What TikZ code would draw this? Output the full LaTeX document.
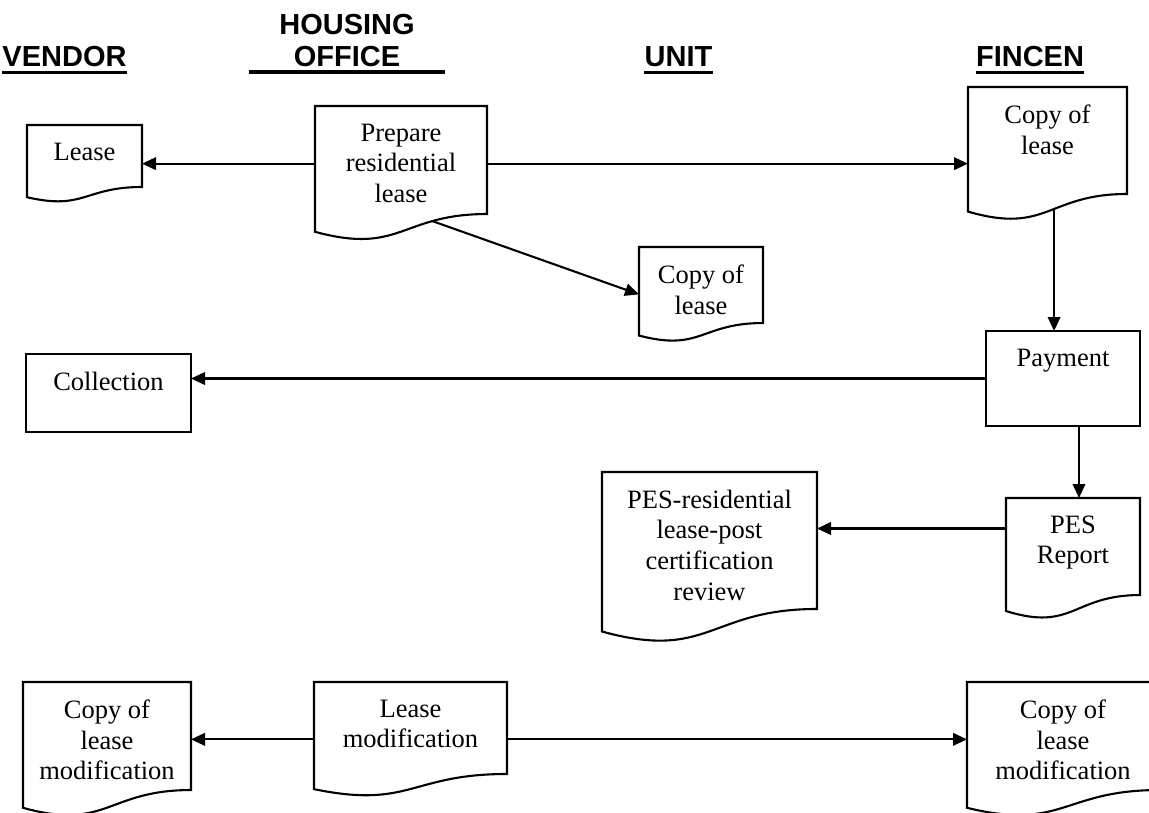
\documentclass[tikz,border=0pt]{standalone}
\usepackage{fontspec}
\setmainfont{Liberation Serif}
\newfontfamily\headfont{Liberation Sans}
\usetikzlibrary{arrows.meta,calc}

\tikzset{
  headline/.style={font=\headfont\bfseries\fontsize{29}{32}\selectfont, inner sep=0pt},
  uline/.style={line width=3.2pt},
  docbox/.style={anchor=north west, outer sep=0pt, inner sep=0pt},
  box/.style={docbox, draw, line width=2.1pt},
  docline/.style={line width=2.1pt, line join=miter},
  txt/.style={anchor=north, yshift=-17.5pt, align=center, inner sep=0pt, font=\fontsize{26.5}{30.7}\selectfont},
  arr/.style={-{Triangle[length=14pt,width=12.5pt]}, line width=2.1pt},
}

\newcommand{\docoutline}[2][0.5]{%
  \draw[docline] (#2.north west) -- (#2.north east)
    -- ($(#2.north east)!0.802!(#2.south east)$)
    .. controls ($(#2.north)!0.802!(#2.south)$) and ($(#2.north)!1.1075!(#2.south)$)
    .. ($(#2.north west)!0.934!(#2.south west)$) coordinate[pos=#1] (#2-w) -- cycle;}

\begin{document}
\begin{tikzpicture}[x=1pt,y=-1pt]
\clip (0,0) rectangle (1149,813);
\fill[white] (0,0) rectangle (1149,813);

\node[headline, anchor=base] (vendor) at (64.5,67) {VENDOR};
\node[headline, anchor=north, align=center] (house) at (347,14) {HOUSING\\OFFICE};
\node[headline, anchor=base] (unit) at (678.5,67) {UNIT};
\node[headline, anchor=base] (fincen) at (1030,67) {FINCEN};
\draw[uline] ([yshift=-5pt]vendor.south west) -- ([yshift=-5pt]vendor.south east);
\draw[uline] ([yshift=-5pt,xshift=-98pt]house.south) -- ([yshift=-5pt,xshift=98pt]house.south);
\draw[uline] ([yshift=-5pt]unit.south west) -- ([yshift=-5pt]unit.south east);
\draw[uline] ([yshift=-5pt]fincen.south west) -- ([yshift=-5pt]fincen.south east);

\node[docbox, minimum width=115pt, minimum height=77.3pt, label={[txt]north:Lease}] (lease) at (27,125) {};
\node[docbox, minimum width=172pt, minimum height=134.7pt, label={[txt]north:Prepare\\residential\\lease}] (prep) at (315,106) {};
\node[docbox, minimum width=159pt, minimum height=133.4pt, label={[txt]north:Copy of\\lease}] (fincopy) at (968,87) {};
\node[docbox, minimum width=124pt, minimum height=94.8pt, label={[txt]north:Copy of\\lease}] (unitcopy) at (639,247) {};
\node[box, minimum width=165pt, minimum height=78pt, label={[txt]north:Collection}] (coll) at (26,354) {};
\node[box, minimum width=154pt, minimum height=95pt, label={[txt]north:Payment}] (pay) at (986,331) {};
\node[docbox, minimum width=134pt, minimum height=121pt, label={[txt]north:PES\\Report}] (pesrep) at (1006,498) {};
\node[docbox, minimum width=215pt, minimum height=170.8pt, label={[txt]north:PES-residential\\lease-post\\certification\\review}] (pesrev) at (602,472) {};
\node[docbox, minimum width=168pt, minimum height=134.7pt, label={[txt]north:Copy of\\lease\\modification}] (vmod) at (23,682) {};
\node[docbox, minimum width=193pt, minimum height=114.7pt, label={[txt]north:Lease\\modification}] (lmod) at (314,682) {};
\node[docbox, minimum width=192pt, minimum height=134.7pt, label={[txt]north:Copy of\\lease\\modification}] (fmod) at (967,682) {};

\docoutline{lease}
\docoutline[0.273]{prep}
\docoutline[0.445]{fincopy}
\docoutline{unitcopy}
\docoutline{pesrep}
\docoutline{pesrev}
\docoutline{vmod}
\docoutline{lmod}
\docoutline{fmod}

\draw[arr] (prep.west |- lease.east) -- (lease.east);
\draw[arr] (prep.east |- lease.east) -- (fincopy.west |- lease.east);
\draw[arr] (prep-w) -- (unitcopy.west);
\draw[arr] (fincopy-w) -- (fincopy-w |- pay.north);
\draw[arr] (pay.west) -- (coll.east |- pay.west);
\draw[arr] ([xshift=6pt]pesrep.north |- pay.south) -- ([xshift=6pt]pesrep.north);
\draw[arr] ([yshift=30pt]pesrep.west) -- ([yshift=30pt]pesrep.west -| pesrev.east);
\draw[arr] (lmod.west) -- (vmod.east |- lmod.west);
\draw[arr] (lmod.east) -- (fmod.west |- lmod.east);
\end{tikzpicture}
\end{document}
